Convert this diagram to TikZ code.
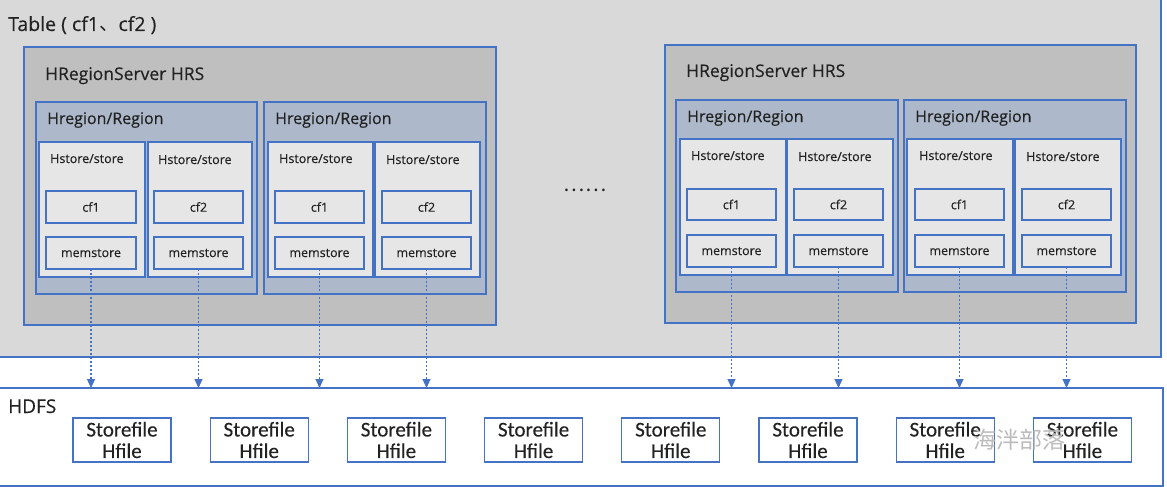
\documentclass[tikz,border=0pt]{standalone}
\usepackage{fontspec}
\setmainfont{Open Sans}[FakeBold=0.35]
\newfontfamily\cjk{Noto Sans CJK SC}
\newfontfamily\cjkwm{Noto Sans CJK SC}
\newfontfamily\calf{Carlito}[FakeBold=0.3]
\usetikzlibrary{arrows.meta,fit}
\definecolor{tbl}{HTML}{D9D9D9}
\definecolor{hrs}{HTML}{BFBFBF}
\definecolor{reg}{HTML}{ADB9CA}
\definecolor{sto}{HTML}{E7E6E6}
\definecolor{bl}{HTML}{4472C4}
\definecolor{txt}{HTML}{222222}
\definecolor{wm}{HTML}{BBBBBB}
\tikzset{
  frame/.style={draw=bl, line width=1.2pt, inner sep=0pt, outer sep=0pt},
  tablebox/.style={frame, fill=tbl},
  hrsbox/.style={frame, fill=hrs},
  regbox/.style={frame, fill=reg},
  stobox/.style={frame, fill=sto},
  cfbox/.style={frame, fill=sto},
  hdfsbox/.style={frame, fill=white},
  big/.style={text=txt, inner sep=0pt, anchor=base west, font=\fontsize{17.5}{20}\selectfont},
  reglbl/.style={text=txt, inner sep=0pt, anchor=base west, font=\fontsize{16}{19}\selectfont},
  stolbl/.style={text=txt, inner sep=0pt, anchor=base west, font=\fontsize{12.5}{15}\selectfont},
  cflbl/.style={text=txt, inner sep=0pt, font=\fontsize{12.5}{15}\selectfont},
  sfbox/.style={draw=bl, line width=1.1pt, fill=white, minimum width=98pt, minimum height=44pt,
    inner sep=0pt, align=center, text=txt, font=\calf\fontsize{21}{21.5}\selectfont},
  arr/.style={draw=bl, line width=1.1pt, dash pattern=on 2pt off 2pt,
    -{Triangle[length=9pt,width=8pt]}}
}
\newcommand\bx[6]{\node[#1, fit={(#2,#3)(#4,#5)}] (#6) {};}
\begin{document}
\begin{tikzpicture}[x=1pt,y=-1pt]
\useasboundingbox (0,0) rectangle (1167,487);
\fill[white] (0,0) rectangle (1167,487);
% Table and HDFS
\bx{tablebox}{-3}{-3}{1161}{357}{table}
\bx{hdfsbox}{-3}{388}{1163}{486}{hdfs}
\node[big, font=\fontsize{19.5}{22}\selectfont] (ttable) at (8,31) {Table ( cf1{\cjk 、}cf2 )};
\node[big, font=\fontsize{19}{21}\selectfont] (thdfs) at (8,413) {HDFS};
% Left HRS
\bx{hrsbox}{24}{47}{496}{325}{hrsL}
\node[big] (thrsL) at (45,80) {HRegionServer HRS};
\bx{regbox}{36}{102}{257}{294}{regA}
\bx{regbox}{264}{102}{486}{294}{regB}
\node[reglbl] (tregA) at (47,124) {Hregion/Region};
\node[reglbl] (tregB) at (275,124) {Hregion/Region};
\bx{stobox}{39}{142}{145}{277}{stA1}
\bx{stobox}{148}{142}{252}{277}{stA2}
\bx{stobox}{268}{142}{373}{277}{stB1}
\bx{stobox}{375}{142}{480}{277}{stB2}
\node[stolbl] (tstA1) at (50,163) {Hstore/store};
\node[stolbl] (tstA2) at (158,164) {Hstore/store};
\node[stolbl] (tstB1) at (279,163) {Hstore/store};
\node[stolbl] (tstB2) at (386,164) {Hstore/store};
\bx{cfbox}{46}{191}{136}{223}{cfA1}
\bx{cfbox}{154}{191}{243}{223}{cfA2}
\bx{cfbox}{275}{191}{364}{223}{cfB1}
\bx{cfbox}{382}{191}{471}{223}{cfB2}
\bx{cfbox}{46}{237}{136}{269}{mA1}
\bx{cfbox}{154}{237}{243}{269}{mA2}
\bx{cfbox}{275}{237}{364}{269}{mB1}
\bx{cfbox}{382}{237}{471}{269}{mB2}
% Right HRS
\bx{hrsbox}{665}{45}{1136}{323}{hrsR}
\node[big] (thrsR) at (686,77) {HRegionServer HRS};
\bx{regbox}{676}{100}{898}{292}{regC}
\bx{regbox}{904}{100}{1126}{292}{regD}
\node[reglbl] (tregC) at (687,122) {Hregion/Region};
\node[reglbl] (tregD) at (915,122) {Hregion/Region};
\bx{stobox}{680}{139}{786}{275}{stC1}
\bx{stobox}{787}{139}{893}{275}{stC2}
\bx{stobox}{907}{139}{1013}{275}{stD1}
\bx{stobox}{1015}{139}{1121}{275}{stD2}
\node[stolbl] (tstC1) at (691,160) {Hstore/store};
\node[stolbl] (tstC2) at (798,161) {Hstore/store};
\node[stolbl] (tstD1) at (919,160) {Hstore/store};
\node[stolbl] (tstD2) at (1026,161) {Hstore/store};
\bx{cfbox}{687}{189}{776}{220}{cfC1}
\bx{cfbox}{794}{189}{883}{220}{cfC2}
\bx{cfbox}{915}{189}{1004}{220}{cfD1}
\bx{cfbox}{1022}{189}{1111}{220}{cfD2}
\bx{cfbox}{687}{235}{776}{267}{mC1}
\bx{cfbox}{794}{235}{883}{267}{mC2}
\bx{cfbox}{915}{235}{1004}{267}{mD1}
\bx{cfbox}{1022}{235}{1111}{267}{mD2}
% cf / memstore labels
\foreach \n/\t in {cfA1/cf1,cfA2/cf2,cfB1/cf1,cfB2/cf2,cfC1/cf1,cfC2/cf2,cfD1/cf1,cfD2/cf2,
  mA1/memstore,mA2/memstore,mB1/memstore,mB2/memstore,mC1/memstore,mC2/memstore,mD1/memstore,mD2/memstore}
  \node[cflbl] (l\n) at (\n.center) {\t};
% ellipsis
\node[text=txt, inner sep=0pt, font=\cjk\fontsize{20}{20}\selectfont] (dots) at (585,190) {……};
% Storefiles
\foreach \i in {0,...,7}
  \node[sfbox] (sf\i) at ({122+137.2*\i},440) {Storefile\\Hfile};
% watermark
\node[text=wm, inner sep=0pt, font=\cjkwm\fontsize{23}{23}\selectfont] (wmark) at (1019,440) {海泮部落};
% arrows
\foreach \m in {mA1,mA2,mB1,mB2,mC1,mC2,mD1,mD2}
  \draw[arr] (\m.south) -- (\m.south |- hdfs.north);
\end{tikzpicture}
\end{document}
